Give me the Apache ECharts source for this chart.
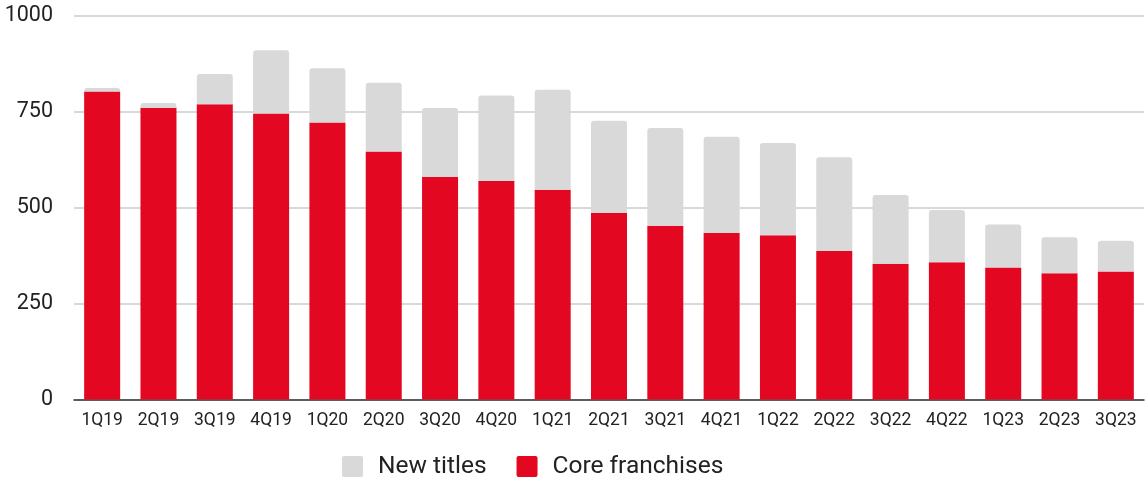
<!DOCTYPE html>
<html>
<head>
<meta charset="utf-8">
<script src="https://cdn.jsdelivr.net/npm/echarts@6/dist/echarts.min.js"></script>
<style>html,body{margin:0;padding:0;background:#fff}#c{width:1148px;height:477px}</style>
</head>
<body>
<div id="c"></div>
<script>
const categories = ['1Q19','2Q19','3Q19','4Q19','1Q20','2Q20','3Q20','4Q20','1Q21','2Q21','3Q21','4Q21','1Q22','2Q22','3Q22','4Q22','1Q23','2Q23','3Q23'];
const coreFranchises = [803,760,770,746,722,647,580,570,547,486,453,434,428,387,354,358,344,329,334];
const newTitles = [9,13,79,165,142,179,180,223,261,241,255,251,241,245,179,136,112,94,80];
const yTicks = [0,250,500,750,1000];

const chart = echarts.init(document.getElementById('c'), null, {renderer:'canvas'});
chart.setOption({
  animation:false,
  grid:{left:74,right:4,top:16,bottom:77.5,containLabel:false},
  legend:{
    data:['New titles','Core franchises'],
    left:342, top:454, padding:0,
    icon:'path://M2,0H19Q21,0 21,2V19Q21,21 19,21H2Q0,21 0,19V2Q0,0 2,0Z',
    itemWidth:21, itemHeight:21, itemGap:30,
    textStyle:{fontFamily:'Roboto', fontSize:24.5, color:'#222', padding:[0,0,0,10]}
  },
  xAxis:{
    type:'category', data:categories,
    axisLine:{lineStyle:{color:'#333',width:1.5}},
    axisTick:{show:false},
    axisLabel:{fontFamily:'Roboto', fontSize:17.5, color:'#222', margin:12, interval:0}
  },
  yAxis:{
    type:'value', min:yTicks[0], max:yTicks[yTicks.length-1], interval:250,
    axisLine:{show:false}, axisTick:{show:false},
    splitLine:{lineStyle:{color:'#cccccc',width:1.5}},
    axisLabel:{fontFamily:'Roboto', fontSize:21.5, color:'#222', margin:21,
      formatter:function(v){return String(v);}}
  },
  series:[
    {name:'Core franchises', type:'bar', stack:'t', data:coreFranchises, barWidth:36,
     itemStyle:{color:'#E30722'}},
    {name:'New titles', type:'bar', stack:'t', data:newTitles, barWidth:36,
     itemStyle:{color:'#D9D9D9', borderRadius:[3,3,0,0]}}
  ]
});
</script>
</body>
</html>
